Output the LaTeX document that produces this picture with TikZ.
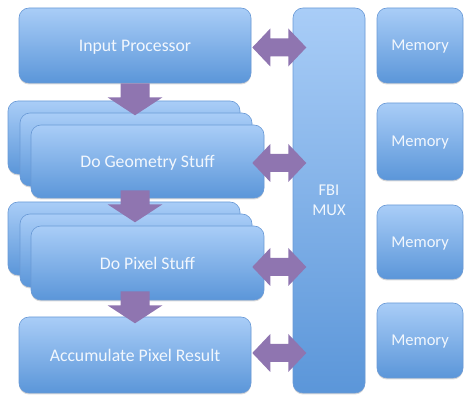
\documentclass[tikz,border=0pt]{standalone}
\usepackage{fontspec}
\setmainfont{Carlito}
\usetikzlibrary{calc,shadows}
\definecolor{boxtop}{HTML}{A9CDF7}
\definecolor{boxbot}{HTML}{5B96D9}
\definecolor{boxline}{HTML}{6A9AD6}
\definecolor{arw}{HTML}{8F75B0}
\definecolor{txt}{HTML}{F2F7FD}
\tikzset{
 blk/.style={draw=boxline, line width=0.6pt, rounded corners=10pt, top color=boxtop, bottom color=boxbot,
   text=txt, font=\fontsize{16.5}{20}\selectfont, inner sep=0pt, align=center, text depth=0pt,
   drop shadow={opacity=0.3, shadow xshift=0pt, shadow yshift=-1.5pt, fill=gray}},
 bigtxt/.style={font=\fontsize{17.7}{21}\selectfont},
 arrowfill/.style={fill=arw, draw=none}
}
\newcommand\dblarr[1]{\fill[arrowfill] (#1) -- ++(18,-19) -- ++(0,10) -- ++(18,0) -- ++(0,-10) -- ++(18,19) -- ++(-18,19) -- ++(0,-10) -- ++(-18,0) -- ++(0,10) -- cycle;}
\newcommand\downarr[1]{\fill[arrowfill] (#1) -- ++(-14.5,0) -- ++(0,14) -- ++(-13,0) -- ++(27.5,18) -- ++(27.5,-18) -- ++(-13,0) -- ++(0,-14) -- cycle;}
\begin{document}
\begin{tikzpicture}[x=1pt,y=-1pt]
\useasboundingbox (0,0) rectangle (464,395);
% left column
\node[blk, bigtxt, minimum width=232pt, minimum height=75pt] (ip) at (135,45.5) {Input Processor};
\node[blk, minimum width=232pt, minimum height=73pt] (geoA) at (124,137.5) {};
\node[blk, minimum width=232pt, minimum height=73pt] (geoB) at (136,149.5) {};
\node[blk, bigtxt, minimum width=233pt, minimum height=73pt] (geoC) at (147.5,161.5) {Do Geometry Stuff};
\node[blk, minimum width=232pt, minimum height=73pt] (pixA) at (124,238.5) {};
\node[blk, minimum width=232pt, minimum height=73pt] (pixB) at (136,250.5) {};
\node[blk, bigtxt, minimum width=233pt, minimum height=74pt] (pixC) at (147.5,263) {Do Pixel Stuff};
\node[blk, bigtxt, minimum width=232pt, minimum height=76pt] (acc) at (135,355) {Accumulate Pixel Result};
% mux
\node[blk, minimum width=72pt, minimum height=385pt] (mux) at (329,200.5) {FBI\\MUX};
% memories
\node[blk, minimum width=86pt, minimum height=75pt] (mem1) at (420,45.5) {Memory};
\node[blk, minimum width=86pt, minimum height=77pt] (mem2) at (420,141.5) {Memory};
\node[blk, minimum width=86pt, minimum height=74pt] (mem3) at (420,242) {Memory};
\node[blk, minimum width=86pt, minimum height=75pt] (mem4) at (420,340.5) {Memory};
% down arrows
\downarr{ip.south}
\downarr{$(ip.south |- geoC.south)+(0,-8)$}
\downarr{$(ip.south |- pixC.south)+(0,-9)$}
% double arrows to mux
\dblarr{$(ip.east)+(1,2)$}
\dblarr{$(ip.east |- geoC.east)+(1,1.5)$}
\dblarr{$(ip.east |- pixC.east)+(1,4)$}
\dblarr{$(acc.east)+(1,-2)$}
\end{tikzpicture}
\end{document}
